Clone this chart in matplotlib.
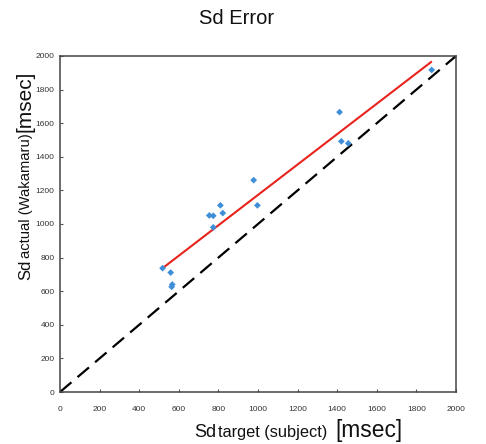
import matplotlib
matplotlib.use('Agg')
import matplotlib.pyplot as plt

# === DATEN ===
SD_TARGET = [518, 559, 567, 564, 754, 774, 774, 810, 822, 978, 997, 1412, 1421, 1456, 1877]
SD_ACTUAL = [737, 711, 640, 626, 1051, 1049, 980, 1111, 1065, 1261, 1111, 1666, 1492, 1480, 1917]

FIT_X = [518, 1874]
FIT_Y = [737, 1964]

# Identitaetslinie
IDENT = [0, 2000]

TICKS = list(range(0, 2001, 200))
# =============

plt.rcParams['font.family'] = ['Liberation Sans', 'DejaVu Sans']

fig = plt.figure(figsize=(4.86, 4.44), dpi=100)
ax = fig.add_axes([60 / 486, 1 - 392 / 444, 396 / 486, 336 / 444])

ax.plot(IDENT, IDENT, color='black', lw=1.6, dashes=(6.75, 3.6), zorder=2)
ax.plot(FIT_X, FIT_Y, color='#e8231c', lw=1.5, zorder=3)
ax.scatter(SD_TARGET, SD_ACTUAL, s=12, marker='D', color='#3f8fd8',
           edgecolors='none', zorder=4)

ax.set_xlim(0, 2000)
ax.set_ylim(0, 2000)
ax.set_xticks(TICKS)
ax.set_yticks(TICKS)
ax.tick_params(axis='both', labelsize=6, labelcolor='#333333', color='#555555',
               length=2.5, width=0.8, direction='in')
ax.tick_params(axis='x', pad=10)
ax.tick_params(axis='y', pad=4)
for sp in ax.spines.values():
    sp.set_color('#444444')
    sp.set_linewidth(1.1)

fig.text(237 / 486, 1 - 18 / 444, 'Sd Error', ha='center', va='center',
         fontsize=14.5, color='#111111')

fig.canvas.draw()
renderer = fig.canvas.get_renderer()


def kette(teile, x0, y0, vertikal=False):
    """Setzt Textstuecke mit unterschiedlicher Groesse hintereinander."""
    pos = x0 if not vertikal else y0
    for text, size, gap in teile:
        if vertikal:
            t = fig.text(x0, pos, text, fontsize=size, rotation=90,
                         rotation_mode='anchor', ha='left', va='baseline',
                         color='#111111')
            ext = t.get_window_extent(renderer)
            pos += (ext.height + gap) / fig.bbox.height
        else:
            t = fig.text(pos, y0, text, fontsize=size, ha='left',
                         va='baseline', color='#111111')
            ext = t.get_window_extent(renderer)
            pos += (ext.width + gap) / fig.bbox.width


kette([('Sd', 13, 2), ('target (subject)', 11.8, 8), ('[msec]', 16.4, 0)],
      194 / 486, 7 / 444)
kette([('Sd', 12, 2), ('actual (Wakamaru)', 10.6, 1), ('[msec]', 15, 0)],
      30 / 486, 1 - 280 / 444, vertikal=True)

fig.savefig('out.png', dpi=100)
